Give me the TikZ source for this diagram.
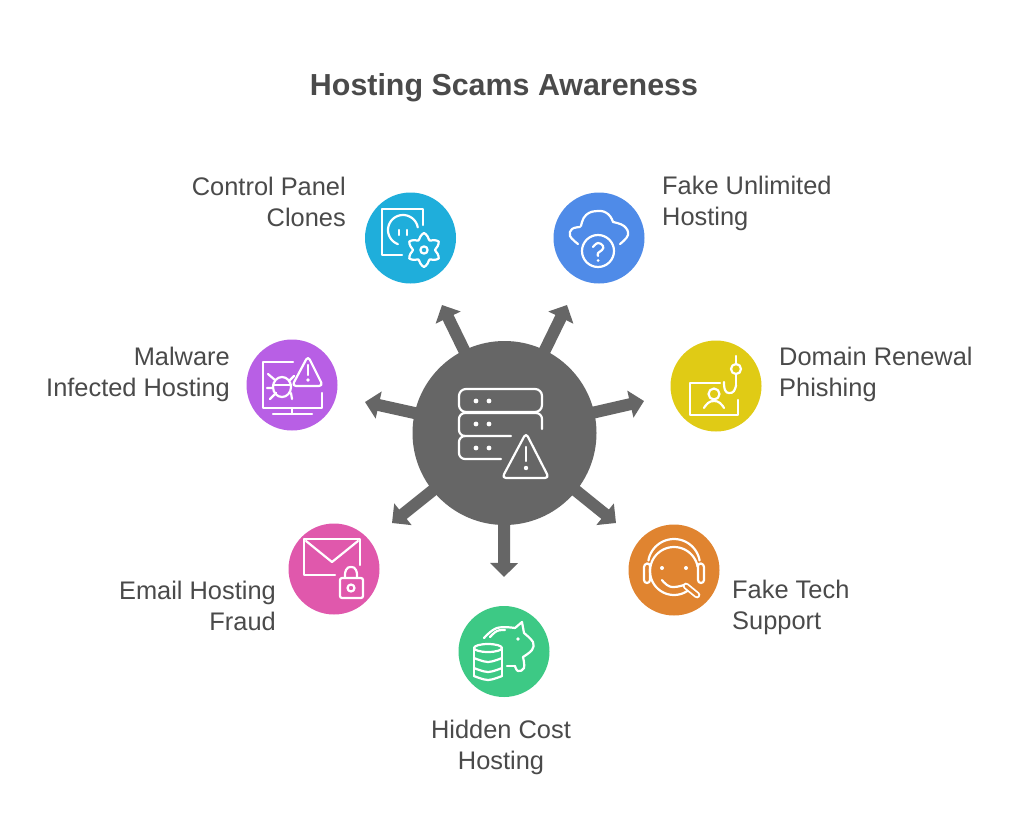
\documentclass[tikz,border=0pt]{standalone}
\usepackage{fontspec}
\setmainfont{Liberation Sans}
\usetikzlibrary{arrows.meta}
\definecolor{cblue}{HTML}{1FAEDB}
\definecolor{bblue}{HTML}{4F8BE8}
\definecolor{cyellow}{HTML}{E0CB15}
\definecolor{corange}{HTML}{E08430}
\definecolor{cgreen}{HTML}{3DC985}
\definecolor{cpink}{HTML}{E058AC}
\definecolor{cpurple}{HTML}{B85FE5}
\definecolor{cdark}{HTML}{666666}
\definecolor{ctext}{HTML}{4A4A4A}
\tikzset{
  x=1pt,y=-1pt,
  disc/.style={circle,inner sep=0pt,minimum size=91pt,fill=#1},
  hub/.style={circle,inner sep=0pt,minimum size=184pt,fill=cdark},
  arr/.style={draw=cdark,line width=12pt,-{Triangle[length=14pt,width=27pt,fill=cdark]}},
  lab/.style={text=ctext,inner sep=0pt,font=\fontsize{25.4}{31}\selectfont},
  ttl/.style={text=ctext,inner sep=0pt,font=\fontsize{30.4}{34}\selectfont\bfseries},
  ico/.style={draw=white,line width=2.2pt,line cap=round,line join=round},
  dotw/.style={fill=white,draw=none},
}
\begin{document}
\begin{tikzpicture}
\useasboundingbox[fill=white] (0,0) rectangle (1024,838);
\node[ttl] (title) at (504,88) {Hosting Scams Awareness};
% discs
\node[disc=cblue] (control) at (410.5,238) {};
\node[disc=bblue] (unlimited) at (599,238) {};
\node[disc=cyellow] (domain) at (716,386) {};
\node[disc=corange] (support) at (674,570) {};
\node[disc=cgreen] (cost) at (504,651.5) {};
\node[disc=cpink] (email) at (334,569) {};
\node[disc=cpurple] (malware) at (292,385) {};
% arrow ends
\coordinate (a1) at (442,305);
\coordinate (a2) at (567,305);
\coordinate (a3) at (644,401);
\coordinate (a4) at (616,523);
\coordinate (a5) at (504,577);
\coordinate (a6) at (392,523);
\coordinate (a7) at (365,402);
\coordinate (hubc) at (504.5,433);
\foreach \e in {a1,a2,a3,a4,a5,a6,a7} \draw[arr] (hubc) -- (\e);
\node[hub] (hub) at (hubc) {};
% labels
\node[lab,align=right,anchor=east] (l1) at (346,202) {Control Panel\\Clones};
\node[lab,align=left,anchor=west] (l2) at (662,203) {Fake Unlimited\\Hosting};
\node[lab,align=left,anchor=west] (l3) at (779,374) {Domain Renewal\\Phishing};
\node[lab,align=left,anchor=west] (l4) at (732,607.5) {Fake Tech\\Support};
\node[lab,align=center] (l5) at (501,747) {Hidden Cost\\Hosting};
\node[lab,align=right,anchor=east] (l6) at (276,605.5) {Email Hosting\\Fraud};
\node[lab,align=right,anchor=east] (l7) at (230,374) {Malware\\Infected Hosting};
% hub icon
\draw[ico,rounded corners=7pt] (500,389) -- (542,389) -- (542,412) -- (459,412) -- (459,389) -- cycle;
\draw[ico,rounded corners=6pt] (542,429) -- (542,413) -- (459,413) -- (459,436) -- (511,436);
\draw[ico,rounded corners=6pt] (465,436) -- (459,436) -- (459,459) -- (501,459);
\foreach \p in {(476,401),(489,401),(476,424),(489,424),(476,448),(489,448)} \fill[dotw] \p circle[radius=2.4pt];
\draw[ico,rounded corners=4pt] (526,433) -- (549,478) -- (502,478) -- cycle;
\draw[ico] (526,447) -- (526,461);
\fill[dotw] (526,468) circle[radius=2.2pt];
% control panel clones
\draw[ico] (423,225) -- (423,209) -- (382,209) -- (382,255) -- (402,255);
\draw[ico] plot[domain=-10:-250,samples=30] ({403+15*cos(\x)},{230+15*sin(\x)});
\draw[ico] (399,230) -- (399,235) (407,230) -- (407,235);
\draw[ico] plot[smooth cycle,domain=0:345,samples=24] ({424+(14-3*cos(6*\x))*cos(\x)},{250+(14-3*cos(6*\x))*sin(\x)});
\draw[ico] (424,250) circle[radius=3.6pt];
% fake unlimited
\draw[ico] plot[smooth,tension=.7] coordinates {(578,244) (570,236) (572,229) (580,227)};
\draw[ico] plot[smooth,tension=.8] coordinates {(581,226) (586,215) (598,211) (608,214) (613,222)};
\draw[ico] plot[smooth,tension=.7] coordinates {(613,222) (624,226) (628,235) (620,244)};
\draw[ico] (598,251) circle[radius=16pt];
\draw[ico] plot[smooth,tension=.8] coordinates {(593,247) (598,243) (603,246) (602,250) (598,253) (598,256)};
\fill[dotw] (598,260.5) circle[radius=1.5pt];
% domain renewal phishing
\draw[ico] (720,383) -- (690,383) -- (690,415) -- (738,415) -- (738,400);
\draw[ico] (714,394) circle[radius=5.5pt];
\draw[ico] plot[smooth,tension=.8] coordinates {(704,408) (708,403) (714,401) (720,403) (724,408)};
\draw[ico] (736,356) -- (736,364);
\draw[ico] (736,369) circle[radius=5pt];
\draw[ico] (736,374) -- (736,385);
\draw[ico] plot[smooth,tension=.8] coordinates {(736,385) (734,391) (729,393) (725,390) (724,382)};
% fake tech support
\draw[ico] plot[domain=-170:-10,samples=30] ({674+26*cos(\x)},{565+26*sin(\x)});
\draw[ico,rounded corners=3pt] (650,563) -- (644,564) -- (644,583) -- (650,583) -- cycle;
\draw[ico,rounded corners=3pt] (698,563) -- (704,564) -- (704,583) -- (698,583) -- cycle;
\draw[ico] plot[domain=50:350,samples=50] ({674+24*cos(\x)},{571+24*sin(\x)});
\draw[ico] plot[smooth,tension=.8] coordinates {(662,580) (667,585) (674,587) (684,585)};
\fill[dotw] (662,568) circle[radius=2pt] (686,568) circle[radius=2pt];
\draw[white,line width=1.8pt,double=corange,double distance=3pt,line cap=round] (686,586) -- (697,595);
% hidden cost
\draw[ico] (488,648) ellipse[x radius=14pt,y radius=4pt];
\draw[ico] (474,648) -- (474,676);
\draw[ico] (502,648) -- (502,676);
\draw[ico] plot[smooth,tension=.6] coordinates {(474,658) (488,662) (502,658)};
\draw[ico] plot[smooth,tension=.6] coordinates {(474,668) (488,672) (502,668)};
\draw[ico] plot[smooth,tension=.6] coordinates {(474,676) (488,680) (502,676)};
\draw[ico] plot[smooth,tension=.7] coordinates {(484,638) (497,628) (515,628)};
\draw[ico] (515,628) -- (522,622) -- (524,633);
\draw[ico] plot[smooth,tension=.6] coordinates {(524,633) (533,642) (532,650) (523,657)};
\draw[ico] plot[smooth,tension=.7] coordinates {(523,657) (524,668) (518,671) (515,666)};
\draw[ico] (515,666) -- (507,666);
\draw[ico] plot[smooth,tension=.7] coordinates {(490,637) (497,631) (505,630)};
\fill[dotw] (518,639) circle[radius=1.8pt];
% email
\draw[ico] (335,575) -- (304,575) -- (304,539) -- (360,539) -- (360,565);
\draw[ico] (306,541) -- (332,562) -- (358,541);
\draw[ico,rounded corners=2pt] (340,578) rectangle (363,598);
\draw[ico] plot[smooth,tension=.9] coordinates {(345,578) (346,570) (351,567) (356,570) (357,578)};
\draw[ico] (351,588) circle[radius=3.5pt];
% malware
\draw[ico] (293,362) -- (263,362) -- (263,408) -- (322,408) -- (322,393);
\draw[ico] (292,408) -- (292,414) (273,414) -- (312,414);
\draw[ico,rounded corners=4pt] (308,356) -- (323,386) -- (292,386) -- cycle;
\draw[ico] (308,365) -- (308,375);
\fill[dotw] (308,380) circle[radius=1.8pt];
\draw[ico] (282,387) ellipse[x radius=9pt,y radius=10pt];
\draw[ico] (273,385) -- (291,385);
\draw[ico] (268,374) -- (275,380) (267,388) -- (272,388) (270,399) -- (276,393) (291,393) -- (292,399);
\draw[ico] (290,380) -- (294,376);
\end{tikzpicture}
\end{document}
